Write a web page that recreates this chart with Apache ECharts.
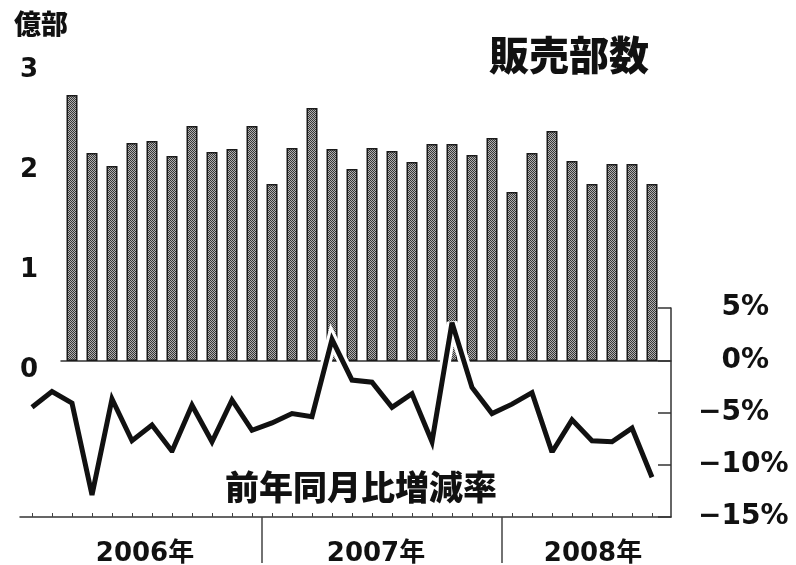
<!DOCTYPE html>
<html>
<head>
<meta charset="utf-8">
<script src="https://cdn.jsdelivr.net/npm/echarts@6/dist/echarts.min.js"></script>
<style>
  html, body { margin: 0; background: #fff; }
  #chart { width: 796px; height: 565px; }
</style>
</head>
<body>
<div id="chart"></div>
<script>
// months on the lower axis (Jan 2006 .. Aug 2008)
const months = [
  '2006-01','2006-02','2006-03','2006-04','2006-05','2006-06','2006-07','2006-08','2006-09','2006-10','2006-11','2006-12',
  '2007-01','2007-02','2007-03','2007-04','2007-05','2007-06','2007-07','2007-08','2007-09','2007-10','2007-11','2007-12',
  '2008-01','2008-02','2008-03','2008-04','2008-05','2008-06','2008-07','2008-08'
];
// month boundaries (start of each month plus the end of the last one)
const monthEdges = months.concat(['2008-09']);
// bars start in March 2006
const barMonths = months.slice(2);
// 販売部数 (億部)
const sales = [2.66, 2.08, 1.95, 2.18, 2.20, 2.05, 2.35, 2.09, 2.12, 2.35, 1.77, 2.13,
               2.53, 2.12, 1.92, 2.13, 2.10, 1.99, 2.17, 2.17, 2.06, 2.23, 1.69, 2.08,
               2.30, 2.00, 1.77, 1.97, 1.97, 1.77];
// 前年同月比増減率 (%)
const yoy = [-4.5, -3.0, -4.1, -12.9, -3.7, -7.7, -6.2, -8.7, -4.3, -7.8, -3.8, -6.7,
             -6.0, -5.1, -5.4, 2.0, -1.9, -2.1, -4.5, -3.2, -7.8, 3.6, -2.6, -5.1,
             -4.2, -3.1, -8.8, -5.7, -7.7, -7.8, -6.5, -11.2];
const salesTicks = [0, 1, 2, 3];
const pctTicks = [-15, -10, -5, 0, 5];
// year label placed at a month boundary, keyed by boundary index
const yearLabels = { 6: '2006年', 18: '2007年', 28: '2008年' };
const yearDividers = [12, 24];

const INK = '#111';
const NUM = "'DejaVu Sans', 'Noto Sans CJK JP', sans-serif";
const CJK = "'Noto Sans CJK JP', sans-serif";

function dotPattern() {
  const c = document.createElement('canvas');
  c.width = 4; c.height = 4;
  const g = c.getContext('2d');
  g.fillStyle = '#b0b0b0';
  g.fillRect(0, 0, 4, 4);
  g.fillStyle = '#383838';
  for (let y = 0; y < 4; y++) {
    for (let x = 0; x < 4; x++) {
      if ((x + y) % 2 === 0) g.fillRect(x, y, 1, 1);
    }
  }
  return c;
}

const yearStyle = { color: INK, fontSize: 26, fontWeight: 'bold', fontFamily: NUM };

const chart = echarts.init(document.getElementById('chart'));
chart.setOption({
  animation: false,
  backgroundColor: '#fff',
  title: [
    { text: '億部', left: 14, top: 10, padding: 0,
      textStyle: { color: INK, fontSize: 27, fontWeight: 900, fontFamily: CJK } },
    { text: '販売部数', left: 489, top: 35, padding: 0,
      textStyle: { color: INK, fontSize: 40, fontWeight: 900, fontFamily: CJK } },
    { text: '前年同月比増減率', left: 160, top: 453, padding: [17, 65, 7, 65],
      backgroundColor: '#fff',
      textStyle: { color: INK, fontSize: 34, fontWeight: 900, fontFamily: CJK } }
  ],
  grid: [
    { left: 22, top: 308, width: 640, height: 209, outerBoundsMode: 'none' },   // 0: YoY line
    { left: 20, top: 308, width: 651, height: 209, outerBoundsMode: 'none' },   // 1: frame + % axis
    { left: 62, top: 61, width: 600, height: 300, outerBoundsMode: 'none' },    // 2: bars
    { left: 61, top: 300, width: 610, height: 61, outerBoundsMode: 'none' }     // 3: bar baseline
  ],
  xAxis: [
    { gridIndex: 0, type: 'category', position: 'bottom', data: months, boundaryGap: true,
      axisLine: { show: false, onZero: false },
      axisTick: { show: true, inside: true, length: 4, interval: 0, alignWithLabel: true,
                  lineStyle: { color: '#444', width: 1 } },
      axisLabel: { show: false }, splitLine: { show: false } },
    { gridIndex: 0, type: 'category', position: 'bottom', data: monthEdges, boundaryGap: false,
      axisLine: { show: false, onZero: false },
      axisTick: { show: true, length: 46, interval: (i) => yearDividers.includes(i),
                  lineStyle: { color: '#444', width: 1.5 } },
      axisLabel: {
        show: true, margin: 24, interval: (i) => yearLabels[i] !== undefined,
        formatter: (v, i) => i === 6 ? '{a|' + yearLabels[i] + '}'
                           : i === 18 ? '{b|' + yearLabels[i] + '}'
                           : '{c|' + yearLabels[i] + '}',
        rich: {
          a: Object.assign({ padding: [0, 0, 0, 6] }, yearStyle),
          b: Object.assign({ padding: [0, 12, 0, 0] }, yearStyle),
          c: Object.assign({ padding: [0, 0, 0, 22] }, yearStyle)
        }
      },
      splitLine: { show: false } },
    { gridIndex: 1, type: 'value', min: 0, max: 1,
      axisLine: { show: true, onZero: false, lineStyle: { color: '#333', width: 1.5 } },
      axisTick: { show: false }, axisLabel: { show: false }, splitLine: { show: false } },
    { gridIndex: 2, type: 'category', data: barMonths, show: false },
    { gridIndex: 3, type: 'value', min: 0, max: 1,
      axisLine: { show: true, onZero: false, lineStyle: { color: '#333', width: 1.5 } },
      axisTick: { show: false }, axisLabel: { show: false }, splitLine: { show: false } }
  ],
  yAxis: [
    { gridIndex: 0, type: 'value', min: pctTicks[0], max: pctTicks[pctTicks.length - 1], show: false },
    { gridIndex: 1, type: 'value', position: 'right',
      min: pctTicks[0], max: pctTicks[pctTicks.length - 1], interval: 5,
      axisLine: { show: true, onZero: false, lineStyle: { color: '#333', width: 1.5 } },
      axisTick: { show: true, inside: true, length: 13, lineStyle: { color: '#333', width: 1.5 } },
      splitLine: { show: false },
      axisLabel: {
        margin: 27, align: 'left', color: INK, fontSize: 28, fontWeight: 'bold', fontFamily: NUM,
        formatter: (v) => v < 0 ? '\u2212' + Math.abs(v) + '%' : '{g|\u2212}' + v + '%',
        rich: { g: { color: 'transparent', fontSize: 28, fontWeight: 'bold', fontFamily: NUM } }
      } },
    { gridIndex: 2, type: 'value', min: salesTicks[0], max: salesTicks[salesTicks.length - 1], interval: 1,
      axisLine: { show: false }, axisTick: { show: false }, splitLine: { show: false },
      axisLabel: { margin: 24, color: INK, fontSize: 26, fontWeight: 'bold', fontFamily: NUM,
                   verticalAlign: 'top', lineHeight: 18 } },
    { gridIndex: 3, type: 'value', show: false }
  ],
  series: [
    {
      name: '販売部数', type: 'bar', xAxisIndex: 3, yAxisIndex: 2,
      data: sales, barWidth: 11,
      itemStyle: { color: { image: dotPattern(), repeat: 'repeat' }, borderColor: '#1a1a1a', borderWidth: 1.5 }
    },
    {
      name: 'halo', type: 'line', xAxisIndex: 0, yAxisIndex: 0,
      data: yoy, symbol: 'none', silent: true,
      lineStyle: { color: '#fff', width: 11, join: 'miter', miterLimit: 4 }
    },
    {
      name: '前年同月比増減率', type: 'line', xAxisIndex: 0, yAxisIndex: 0,
      data: yoy, symbol: 'none',
      lineStyle: { color: INK, width: 5, join: 'miter', miterLimit: 4 }
    }
  ]
});
</script>
</body>
</html>
